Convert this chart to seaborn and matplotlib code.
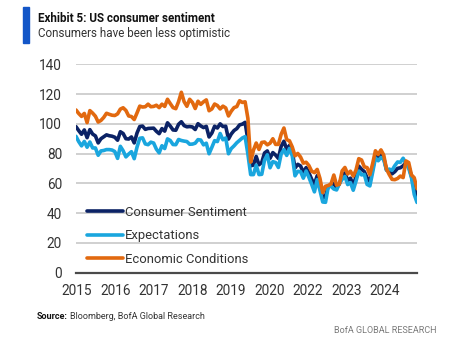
import numpy as np
import pandas as pd
import seaborn as sns
import matplotlib.pyplot as plt
from matplotlib.patches import Rectangle

# Monthly index values, Jan 2015 onward
sentiment = [
    98.1, 95.4, 93.0, 95.9, 90.7, 96.1, 93.1, 91.9, 87.2, 90.0, 91.3, 92.6,
    92.0, 91.7, 91.0, 89.0, 94.7, 93.5, 90.0, 89.8, 91.2, 87.2, 93.8, 98.2,
    98.5, 96.3, 96.9, 97.0, 97.1, 95.0, 93.4, 96.8, 95.1, 100.7, 98.5, 95.9,
    95.7, 99.7, 101.4, 98.8, 98.0, 98.2, 97.9, 96.2, 100.1, 98.6, 97.5, 98.3,
    91.2, 93.8, 98.4, 97.2, 100.0, 98.2, 98.4, 89.8, 93.2, 95.5, 96.8, 99.3,
    99.8, 101.0, 89.1, 71.8, 72.3, 78.1, 72.5, 74.1, 80.4, 81.8, 76.9, 80.7,
    79.0, 76.8, 84.9, 88.3, 82.9, 85.5, 81.2, 70.3, 72.8, 71.7, 67.4, 70.6,
    67.2, 62.8, 59.4, 65.2, 58.4, 50.0, 51.5, 58.2, 58.6, 59.9, 56.8, 59.7,
    64.9, 67.0, 62.0, 63.5, 59.0, 64.4, 71.6, 69.5, 67.9, 63.8, 61.3, 69.7,
    79.0, 76.9, 79.4, 77.2, 69.1, 68.2, 66.4, 67.9, 70.1, 70.5, 71.8, 74.0,
    71.7, 64.7, 57.0, 50.8,
]
expectations = [
    91.6, 88.0, 85.2, 88.2, 84.3, 87.8, 83.8, 83.8, 78.9, 81.8, 82.1, 82.7,
    82.7, 82.4, 81.4, 76.8, 84.9, 81.9, 77.8, 79.7, 81.3, 76.6, 84.3, 90.3,
    90.6, 86.5, 86.0, 87.7, 87.1, 83.0, 80.5, 85.3, 83.4, 89.9, 88.8, 86.1,
    86.0, 89.5, 88.8, 88.4, 88.1, 86.3, 86.4, 87.0, 89.4, 89.1, 85.9, 87.0,
    79.9, 84.2, 88.7, 88.1, 93.5, 89.3, 90.5, 79.9, 83.4, 85.2, 87.3, 88.9,
    90.5, 91.4, 79.7, 65.9, 65.9, 72.3, 65.9, 66.1, 75.6, 79.2, 70.5, 74.6,
    74.0, 70.7, 79.7, 82.7, 78.8, 83.5, 78.5, 65.1, 68.1, 67.9, 63.5, 68.3,
    64.1, 59.4, 54.3, 62.5, 55.2, 47.5, 47.3, 57.9, 58.0, 56.2, 55.6, 59.9,
    62.7, 64.7, 59.2, 60.5, 55.4, 61.5, 68.3, 65.7, 66.0, 59.3, 58.3, 67.4,
    77.1, 75.2, 77.4, 76.0, 68.8, 69.6, 68.8, 71.9, 74.4, 74.1, 76.9, 73.3,
    70.2, 64.0, 52.6, 47.2,
]
conditions = [
    109.3, 106.9, 105.0, 107.0, 100.8, 108.9, 107.2, 105.1, 101.2, 102.3, 104.3, 107.1,
    106.4, 105.8, 105.6, 106.7, 109.9, 110.8, 109.0, 105.3, 104.9, 102.9, 107.3, 111.9,
    111.3, 111.5, 113.2, 111.5, 111.7, 112.5, 110.9, 113.2, 111.7, 116.5, 113.6, 110.9,
    110.2, 114.9, 121.2, 114.9, 111.8, 116.5, 114.4, 110.3, 115.2, 113.1, 114.8, 116.1,
    108.8, 110.0, 113.3, 112.3, 110.0, 111.9, 110.7, 105.3, 108.5, 110.9, 111.6, 115.5,
    114.4, 114.8, 103.7, 74.3, 82.3, 87.1, 82.8, 87.5, 87.8, 85.9, 87.0, 90.0,
    86.2, 86.2, 93.0, 97.2, 89.4, 88.6, 84.5, 78.5, 80.1, 77.7, 73.6, 74.2,
    72.0, 68.2, 67.2, 69.4, 63.3, 53.8, 58.1, 58.6, 59.7, 65.6, 58.8, 59.4,
    68.4, 70.7, 66.3, 68.2, 64.9, 69.0, 76.6, 75.7, 71.1, 70.6, 65.8, 73.3,
    81.9, 79.4, 82.5, 79.0, 69.6, 65.9, 62.7, 62.5, 63.3, 64.9, 63.9, 75.1,
    74.0, 65.7, 63.8, 56.5,
]
year_labels = ["2015", "2016", "2017", "2018", "2019", "2020", "2022", "2023", "2024"]
series_names = ["Consumer Sentiment", "Expectations", "Economic Conditions"]

df = pd.DataFrame({
    "month": np.arange(len(sentiment)),
    "Consumer Sentiment": sentiment,
    "Expectations": expectations,
    "Economic Conditions": conditions,
})
long = df.melt(id_vars="month", var_name="series", value_name="value")

sns.set_theme(style="white")
plt.rcParams["font.family"] = ["Roboto", "DejaVu Sans"]

fig = plt.figure(figsize=(4.69, 3.5), dpi=100)
ax = fig.add_axes([76 / 469, 77.3 / 350, 341 / 469, 208.4 / 350])

palette = {"Consumer Sentiment": "#0b2265",
           "Expectations": "#1aa6de",
           "Economic Conditions": "#e2690f"}
sns.lineplot(data=long, x="month", y="value", hue="series", hue_order=series_names,
             palette=palette, lw=2.6, ax=ax)

ax.set_xlim(0, len(sentiment) - 1)
ax.set_ylim(0, 140)
ax.set_yticks(range(0, 141, 20))
# category-style labels, one every ~14 months as in the original
ax.set_xticks(np.linspace(0.25, 111.4, len(year_labels)))
ax.set_xticklabels(year_labels)
ax.set_xlabel("")
ax.set_ylabel("")
ax.yaxis.grid(True, color="#c4c4c4", lw=1.1)
ax.set_axisbelow(True)
for side in ["left", "right", "top"]:
    ax.spines[side].set_visible(False)
ax.spines["bottom"].set_color("#4a4a4a")
ax.spines["bottom"].set_linewidth(1.6)
ax.tick_params(length=0, labelsize=9.8, colors="#333333")
ax.tick_params(axis="y", pad=10)
ax.tick_params(axis="x", pad=8)

ax.legend(frameon=False, loc="upper left", bbox_to_anchor=(0.016, 0.345),
          fontsize=9.4, handlelength=2.8, handletextpad=0.1, labelspacing=0.8,
          borderaxespad=0, labelcolor="#333333")

# header
fig.patches.append(Rectangle((23 / 469, 1 - 43 / 350), 6 / 469, 36 / 350,
                             transform=fig.transFigure, color="#1356c8"))
fig.text(38 / 469, 1 - 21.5 / 350, "Exhibit 5: US consumer sentiment",
         fontsize=8.4, fontweight="bold", color="#111111", va="baseline")
fig.text(38 / 469, 1 - 37.5 / 350, "Consumers have been less optimistic",
         fontsize=8.4, color="#333333", va="baseline")

# footer
src = fig.text(37 / 469, 1 - 319 / 350, "Source:", fontsize=6.5,
               fontweight="bold", color="#111111", va="baseline")
fig.canvas.draw()
bb = src.get_window_extent(fig.canvas.get_renderer())
fig.text(bb.x1 / fig.bbox.width + 2 / 469, 1 - 319 / 350, "Bloomberg, BofA Global Research",
         fontsize=6.5, color="#333333", va="baseline")
fig.text(437 / 469, 1 - 333 / 350, "BofA GLOBAL RESEARCH", fontsize=6.5,
         color="#7a7a7a", va="baseline", ha="right")

fig.savefig("out.png", dpi=100)
